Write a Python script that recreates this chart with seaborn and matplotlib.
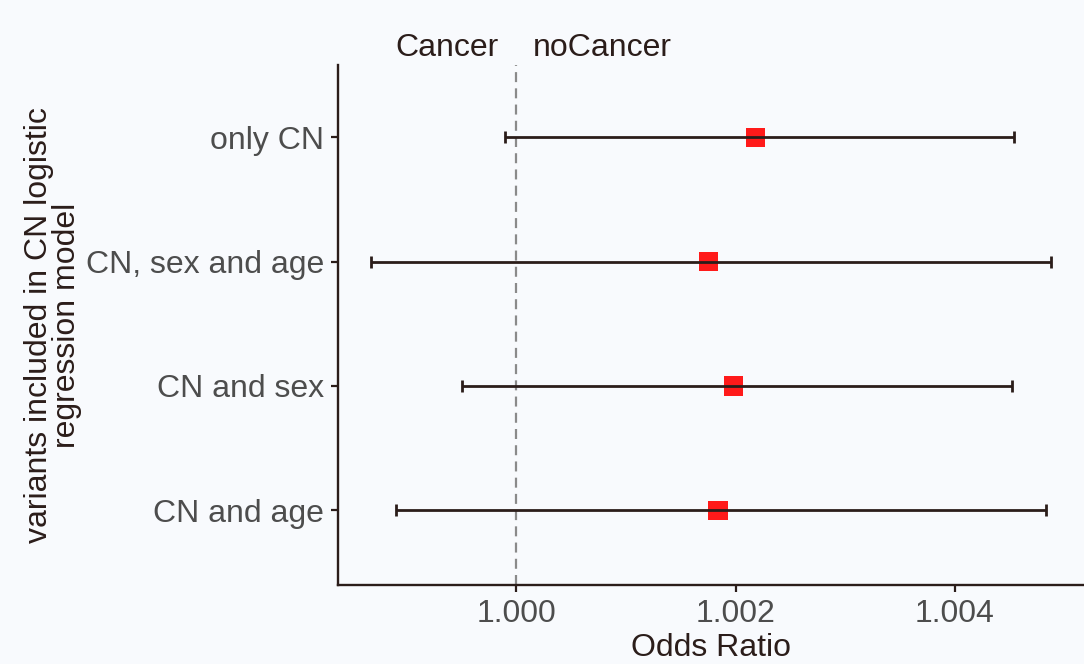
import matplotlib
matplotlib.use("Agg")
import matplotlib.pyplot as plt
import matplotlib.transforms as mtransforms
import seaborn as sns
import pandas as pd

models = ["only CN", "CN, sex and age", "CN and sex", "CN and age"]
odds_ratio = [1.00218, 1.00175, 1.00198, 1.00184]
ci_low = [0.99990, 0.99868, 0.99951, 0.99891]
ci_high = [1.00454, 1.00487, 1.00452, 1.00483]
x_ticks = [1.000, 1.002, 1.004]
side_labels = ["Cancer", "noCancer"]
side_label_x = [0.99937, 1.00079]

df = pd.DataFrame({"model": models, "OR": odds_ratio, "lo": ci_low, "hi": ci_high})

sns.set_theme(style="white")
bg = "#f8fafd"
dark = "#2b1d1a"
plt.rcParams["font.family"] = ["Liberation Sans", "DejaVu Sans"]
fs = 23

fig = plt.figure(figsize=(10.84, 6.64), dpi=100, facecolor=bg)
ax = fig.add_axes([338 / 1084, 1 - 585 / 664, 1 - 338 / 1084, 520 / 664])
ax.set_facecolor(bg)

sns.scatterplot(data=df, x="OR", y="model", marker="s", s=190, color="#ff1a1a",
                edgecolor="none", ax=ax, zorder=2, legend=False)
ypos = list(range(len(models)))
ax.errorbar(df["OR"], ypos,
            xerr=[df["OR"] - df["lo"], df["hi"] - df["OR"]],
            fmt="none", ecolor=dark, elinewidth=2.0, capsize=4.3, capthick=2.0, zorder=3)

ax.axvline(1.0, color="#8a8a8a", linestyle=(0, (4.5, 2.8)), linewidth=1.6, zorder=1)

ax.set_xlim(0.998378, 1.005175)
ax.set_ylim(3.6, -0.58)
ax.set_xticks(x_ticks)
ax.set_xticklabels([f"{v:.3f}" for v in x_ticks])
ax.set_yticks(ypos)
ax.set_yticklabels(models)

ax.tick_params(axis="both", labelsize=fs, colors="#4d4d4d", length=5, width=1.6,
               direction="out", bottom=True, left=True, pad=5)
ax.tick_params(axis="both", color=dark)

for side in ["top", "right"]:
    ax.spines[side].set_visible(False)
for side in ["left", "bottom"]:
    ax.spines[side].set_color(dark)
    ax.spines[side].set_linewidth(1.7)

ax.set_xlabel("Odds Ratio", fontsize=fs, color=dark, labelpad=3)
ax.set_ylabel("variants included in CN logistic\nregression model", fontsize=fs,
              color=dark, linespacing=0.92)
ax.yaxis.set_label_coords(-0.343, 0.5)

trans = mtransforms.blended_transform_factory(ax.transData, ax.transAxes)
for lab, xv in zip(side_labels, side_label_x):
    ax.text(xv, 1.033, lab, transform=trans, ha="center", va="center",
            fontsize=fs, color=dark, clip_on=False)

fig.savefig("out.png", dpi=100, facecolor=bg)
